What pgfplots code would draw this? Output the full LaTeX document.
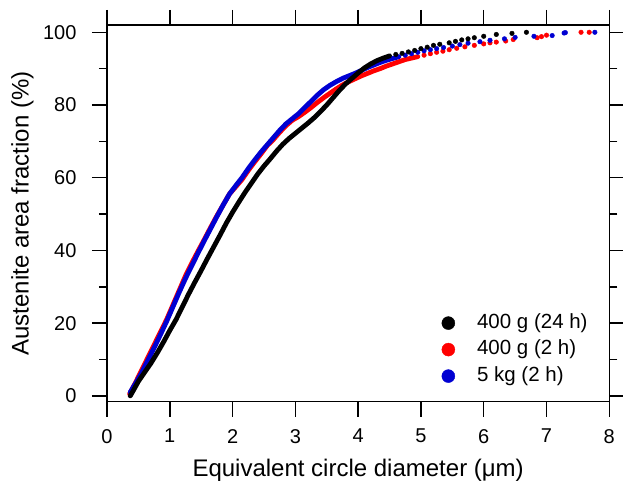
\documentclass[border=0pt]{standalone}
\usepackage{fontspec}
\setmainfont{Liberation Sans}
\usepackage{pgfplots}
\pgfplotsset{compat=1.18}
\definecolor{myblue}{RGB}{0,0,210}
\definecolor{myred}{RGB}{255,0,0}
\begin{document}
\begin{tikzpicture}
\begin{axis}[
  at={(107pt,83.3pt)}, anchor=south west,
  scale only axis, width=502.3pt, height=376.7pt,
  xmin=0, xmax=8, ymin=-1.6, ymax=102,
  xtick={0,1,...,8}, ytick={0,20,...,100}, minor ytick={10,30,...,90},
  tick align=outside, major tick length=15pt, minor tick length=8pt,
  tick style={black, line width=1.5pt},
  axis line style={line width=1.5pt},
  ticklabel style={font=\fontsize{20}{24}\selectfont},
  /pgf/number format/assume math mode=true,
  xticklabel shift=9pt,
  yticklabel style={xshift=-12pt},
  xlabel={Equivalent circle diameter (μm)},
  ylabel={Austenite area fraction (\%)},
  label style={font=\fontsize{24}{28}\selectfont},
  xlabel style={at={(axis description cs:0.5,-0.1434)}, anchor=north, inner sep=3.33pt},
  ylabel style={at={(axis description cs:-0.139,0.5)}, anchor=south, inner sep=3.33pt},
  legend style={at={(axis cs:5.33,22.77)}, anchor=north west, draw=none, fill=none,
    inner sep=0pt, outer sep=0pt, row sep=6.5pt, column sep=22pt,
    font=\fontsize{20.5}{24}\selectfont,
    nodes={inner sep=0pt, text height=15pt, text depth=5pt}},
  legend cell align=left,
  clip=true,
]
\addlegendimage{legend image code/.code={\fill[black] (6.5pt,0pt) circle (6.5pt);}}
\addlegendentry{400 g (24 h)}
\addlegendimage{legend image code/.code={\fill[myred] (6.5pt,0pt) circle (6.5pt);}}
\addlegendentry{400 g (2 h)}
\addlegendimage{legend image code/.code={\fill[myblue] (6.5pt,0pt) circle (6.5pt);}}
\addlegendentry{5 kg (2 h)}

% ---- red: 400 g (2 h) ----
\addplot[myred, line width=4.8pt, line join=round, line cap=round, forget plot] coordinates {
(0.36,0.5) (0.45,3.5) (0.55,7) (0.65,10.5) (0.75,14) (0.85,17.5) (0.95,21) (1.05,25)
(1.15,29) (1.25,33) (1.35,36.5) (1.45,39.8) (1.55,43) (1.65,46.3) (1.75,49.5) (1.85,52.5)
(1.95,55.5) (2.05,57.5) (2.15,59.5) (2.25,62) (2.35,64.3) (2.45,66.5) (2.55,68.8) (2.65,70.5)
(2.75,72.5) (2.85,74.3) (2.95,75.8) (3.05,76.8) (3.15,78) (3.25,79.3) (3.35,80.7) (3.45,82)
(3.55,83.2) (3.65,84.4) (3.75,85.5) (3.85,86.4) (3.95,87.2) (4.05,88) (4.15,88.7) (4.25,89.4)
(4.35,90) (4.45,90.7) (4.55,91.3) (4.65,91.9) (4.75,92.5) (4.85,92.9) (4.95,93.3)
};
\addplot[myred, only marks, mark=*, mark size=2.3pt, mark options={draw=none}, forget plot] coordinates {
(5.05,93.7) (5.15,94.1) (5.25,94.5) (5.35,94.8) (5.45,95.2) (5.57,95.6) (5.7,96.0) (5.85,96.4)
(6.0,96.8) (6.1,97.1) (6.2,97.3) (6.35,97.6) (6.47,98.0) (6.85,98.5) (6.92,98.8) (7.0,99.2)
(7.55,100) (7.68,100)
};

% ---- blue: 5 kg (2 h) ----
\addplot[myblue, line width=4.8pt, line join=round, line cap=round, forget plot] coordinates {
(0.37,1) (0.45,3.3) (0.55,6.3) (0.65,9.8) (0.75,13.2) (0.85,16.8) (0.95,20.5) (1.05,24.5)
(1.15,28.5) (1.25,32.3) (1.35,35.8) (1.45,39.3) (1.55,42.7) (1.65,46) (1.75,49.3) (1.85,52.5)
(1.95,55.5) (2.05,57.8) (2.15,60) (2.25,62.5) (2.35,64.8) (2.45,67) (2.55,69) (2.65,71)
(2.75,73) (2.85,74.8) (2.95,76.2) (3.05,77.6) (3.15,79.3) (3.25,81) (3.35,82.7) (3.45,84.2)
(3.55,85.4) (3.65,86.4) (3.75,87.3) (3.85,88) (3.95,88.7) (4.05,89.5) (4.15,90.3) (4.25,91)
(4.35,91.7) (4.45,92.3) (4.55,92.8) (4.65,93.3)
};
\addplot[myblue, only marks, mark=*, mark size=2.3pt, mark options={draw=none}, forget plot] coordinates {
(4.75,93.7) (4.85,94.1) (4.95,94.5) (5.05,94.9) (5.15,95.2) (5.25,95.5) (5.36,95.8) (5.5,96.2)
(5.62,96.6) (5.75,97.0) (5.94,97.4) (6.1,97.8) (6.33,98.2) (6.5,98.6) (6.8,98.9) (7.09,99.1)
(7.28,99.8) (7.3,99.9) (7.77,100)
};

% ---- black: 400 g (24 h) ----
\addplot[black, line width=4.8pt, line join=round, line cap=round, forget plot] coordinates {
(0.37,0) (0.42,1.5) (0.50,4) (0.60,6.5) (0.70,9) (0.80,11.8) (0.90,14.8) (1.00,18)
(1.10,21) (1.20,24.5) (1.30,28) (1.40,31.3) (1.50,34.5) (1.60,37.8) (1.70,41) (1.80,44.2)
(1.90,47.5) (2.00,50.5) (2.10,53.3) (2.20,56) (2.30,58.5) (2.40,61) (2.50,63.2) (2.60,65.2)
(2.70,67.3) (2.80,69.2) (2.90,70.8) (3.00,72.2) (3.10,73.6) (3.20,75) (3.30,76.5) (3.40,78.2)
(3.50,80) (3.60,82) (3.70,84) (3.80,85.8) (3.90,87.3) (4.00,88.8) (4.10,90.2) (4.20,91.3)
(4.30,92.2) (4.40,92.9) (4.50,93.5)
};
\addplot[black, only marks, mark=*, mark size=2.3pt, mark options={draw=none}, forget plot] coordinates {
(4.6,93.9) (4.7,94.2) (4.8,94.6) (4.9,95.0) (5.0,95.5) (5.1,95.9) (5.2,96.4) (5.3,96.7)
(5.45,97.1) (5.55,97.5) (5.65,97.9) (5.75,98.2) (5.85,98.5) (6.0,98.9) (6.2,99.4) (6.45,99.7)
(6.68,100)
};
\end{axis}
\pgfresetboundingbox
\path (0pt,0pt) rectangle (623pt,485pt);
\end{tikzpicture}
\end{document}
